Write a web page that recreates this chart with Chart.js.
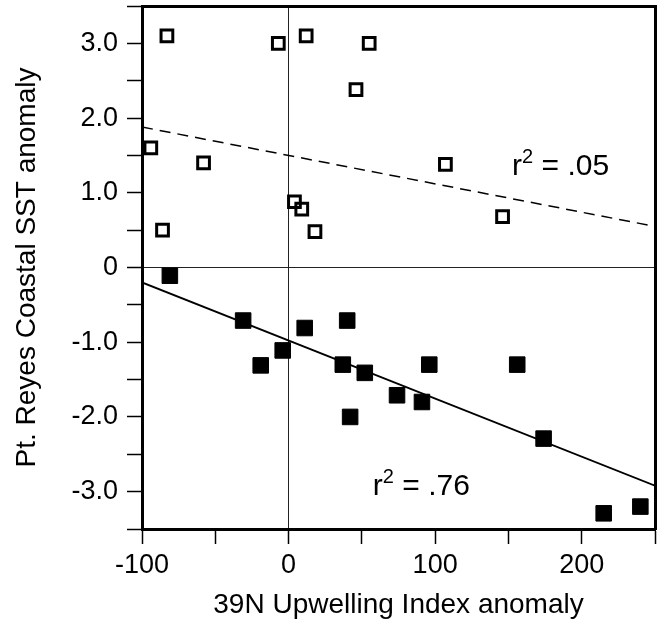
<!DOCTYPE html>
<html>
<head>
<meta charset="utf-8">
<script src="https://cdn.jsdelivr.net/npm/chart.js@4"></script>
<style>
  html, body { margin: 0; padding: 0; background: #fff; }
</style>
</head>
<body>
<canvas id="sstChart" width="662" height="621"></canvas>
<script>
// open squares (upper group)
const openX = [-83, -7, 12, -94, -58, 4, 9, -86, 18, 55, 46, 107, 146];
const openY = [3.1, 3.0, 3.1, 1.6, 1.4, 0.88, 0.78, 0.5, 0.48, 3.0, 2.38, 1.38, 0.68];

// filled squares (lower group)
const filledX = [-81, -31, 11, -4, -19, 40, 37, 52, 42, 74, 91, 96, 156, 174, 215, 240];
const filledY = [-0.11, -0.71, -0.81, -1.11, -1.31, -0.71, -1.3, -1.41, -2.0, -1.71, -1.8, -1.3, -1.3, -2.29, -3.29, -3.2];

// regression line end points
const fitX = [-100, 250];
const dashedFitY = [1.88, 0.55];
const solidFitY = [-0.2, -2.92];

// labelled tick values
const xLabelValues = [-100, 0, 100, 200];
const yLabelValues = [-3, -2, -1, 0, 1, 2, 3];

// r² annotations: [x, y, text]
const notes = [
  [152.5, 1.24, '.05'],
  [57.5, -3.045, '.76']
];

const FONT = "'Liberation Sans', Arial, Helvetica, sans-serif";
const INK = '#000';
const FRAME = { display: true, width: 3, color: INK };

const toPoints = (xs, ys) => xs.map((x, i) => ({ x: x, y: ys[i] }));

// the r² labels, with a superscript 2
const notePlugin = {
  id: 'notes',
  afterDatasetsDraw(chart) {
    const c = chart.ctx;
    const sx = chart.scales.x, sy = chart.scales.y;
    c.save();
    c.fillStyle = INK;
    c.textBaseline = 'alphabetic';
    c.textAlign = 'left';
    notes.forEach(([nx, ny, txt]) => {
      let px = sx.getPixelForValue(nx);
      const py = sy.getPixelForValue(ny);
      c.font = '30px ' + FONT;
      c.fillText('r', px, py);
      px += c.measureText('r').width;
      c.font = '20px ' + FONT;
      c.fillText('2', px, py - 12);
      px += c.measureText('2').width;
      c.font = '30px ' + FONT;
      c.fillText(' = ' + txt, px, py);
    });
    c.restore();
  }
};

const gridOpts = {
  drawOnChartArea: true,
  drawTicks: true,
  tickLength: 15,
  tickWidth: 1.5,
  tickColor: INK,
  lineWidth: 1,
  color: c => (c.tick && c.tick.value === 0 ? '#222' : 'rgba(0,0,0,0)')
};

// top / right edges of the box
const edgeScale = (pos, min, max) => ({
  type: 'linear',
  position: pos,
  min: min,
  max: max,
  grid: { display: false, drawTicks: false },
  ticks: { display: false },
  border: FRAME,
  afterFit: s => { if (pos === 'top') s.height = 0; else s.width = 0; }
});

const ctx = document.getElementById('sstChart').getContext('2d');
new Chart(ctx, {
  type: 'scatter',
  data: {
    datasets: [
      {
        type: 'line',
        data: toPoints(fitX, dashedFitY),
        borderColor: INK,
        borderWidth: 1.5,
        borderDash: [11, 7],
        pointRadius: 0,
        fill: false
      },
      {
        type: 'line',
        data: toPoints(fitX, solidFitY),
        borderColor: INK,
        borderWidth: 1.8,
        pointRadius: 0,
        fill: false
      },
      {
        data: toPoints(openX, openY),
        pointStyle: 'rect',
        pointRadius: 8.3,
        pointBorderWidth: 3,
        pointBorderColor: INK,
        pointBackgroundColor: 'rgba(0,0,0,0)'
      },
      {
        data: toPoints(filledX, filledY),
        pointStyle: 'rect',
        pointRadius: 11,
        pointBorderWidth: 1,
        pointBorderColor: INK,
        pointBackgroundColor: INK
      }
    ]
  },
  options: {
    responsive: false,
    animation: false,
    layout: { autoPadding: false, padding: { top: 6, right: 7, left: 0, bottom: 0 } },
    plugins: {
      legend: { display: false },
      tooltip: { enabled: false }
    },
    scales: {
      x: {
        type: 'linear',
        min: -100,
        max: 250,
        afterFit: s => { s.height = 92; s.paddingLeft = 0; s.paddingRight = 0; },
        border: FRAME,
        grid: gridOpts,
        ticks: {
          stepSize: 50,
          autoSkip: false,
          maxRotation: 0,
          padding: 5,
          color: INK,
          font: { family: FONT, size: 27 },
          callback: v => (xLabelValues.includes(v) ? String(v) : '')
        },
        title: {
          display: true,
          text: '39N Upwelling Index anomaly',
          color: INK,
          font: { family: FONT, size: 28, lineHeight: 1.1 },
          padding: 0
        }
      },
      y: {
        type: 'linear',
        min: -3.5,
        max: 3.5,
        afterFit: s => { s.width = 142; s.paddingTop = 0; s.paddingBottom = 0; },
        border: FRAME,
        grid: gridOpts,
        ticks: {
          stepSize: 0.5,
          autoSkip: false,
          padding: 9,
          color: INK,
          font: { family: FONT, size: 27 },
          callback: v => (yLabelValues.includes(v) ? (v === 0 ? '0' : v.toFixed(1)) : '')
        },
        title: {
          display: true,
          text: 'Pt. Reyes Coastal SST anomaly',
          color: INK,
          font: { family: FONT, size: 28 },
          padding: { top: 10, bottom: 0 }
        }
      },
      xTop: edgeScale('top', -100, 250),
      yRight: edgeScale('right', -3.5, 3.5)
    }
  },
  plugins: [notePlugin]
});
</script>
</body>
</html>
